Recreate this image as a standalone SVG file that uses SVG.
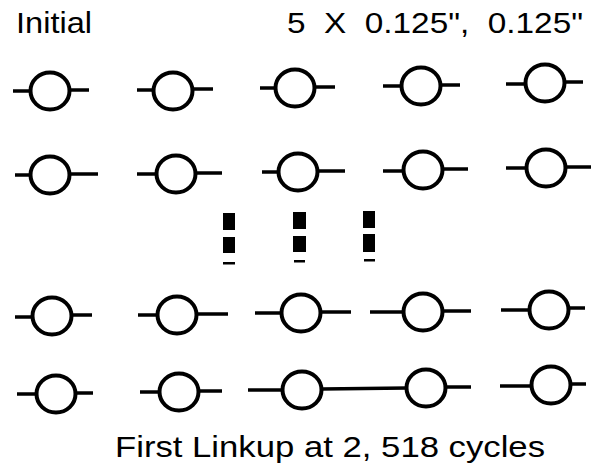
<svg xmlns="http://www.w3.org/2000/svg" width="598" height="463" viewBox="0 0 598 463">
<style>
.c{fill:none;stroke:#000;stroke-width:4}
.s{stroke:#000;stroke-width:3.5;stroke-linecap:butt}
.d{fill:#000}
.t{font-family:"Liberation Sans",Arial,sans-serif;font-size:29px;fill:#000}
</style>
<rect width="598" height="463" fill="#fff"/>
<text class="t" x="16" y="33" textLength="76" lengthAdjust="spacingAndGlyphs">Initial</text>
<text class="t" x="287" y="33" textLength="296" lengthAdjust="spacingAndGlyphs" xml:space="preserve">5  X  0.125",  0.125"</text>

<g id="n1-1"><line class="s" x1="13" y1="91" x2="31" y2="91"/><ellipse class="c" cx="50" cy="91" rx="19.5" ry="18.5"/><line class="s" x1="69" y1="90" x2="89" y2="90"/></g>
<g id="n1-2"><line class="s" x1="137" y1="90" x2="154" y2="90"/><ellipse class="c" cx="173" cy="91" rx="19.5" ry="18.5"/><line class="s" x1="192" y1="89" x2="213" y2="89"/></g>
<g id="n1-3"><line class="s" x1="260" y1="88" x2="276" y2="88"/><ellipse class="c" cx="295" cy="88" rx="19.5" ry="18.5"/><line class="s" x1="314" y1="87" x2="335" y2="87"/></g>
<g id="n1-4"><line class="s" x1="383" y1="86" x2="402" y2="86"/><ellipse class="c" cx="421" cy="86" rx="19.5" ry="18.5"/><line class="s" x1="440" y1="85" x2="460" y2="85"/></g>
<g id="n1-5"><line class="s" x1="506" y1="84" x2="526" y2="84"/><ellipse class="c" cx="545" cy="83" rx="19.5" ry="18.5"/><line class="s" x1="564" y1="82" x2="583" y2="82"/></g>

<g id="n2-1"><line class="s" x1="15" y1="175" x2="31" y2="175"/><ellipse class="c" cx="50" cy="175" rx="19.5" ry="18.5"/><line class="s" x1="69" y1="174" x2="98" y2="174"/></g>
<g id="n2-2"><line class="s" x1="137" y1="174" x2="157" y2="174"/><ellipse class="c" cx="176" cy="174" rx="19.5" ry="18.5"/><line class="s" x1="195" y1="173" x2="222" y2="173"/></g>
<g id="n2-3"><line class="s" x1="262" y1="172" x2="279" y2="172"/><ellipse class="c" cx="298" cy="172" rx="19.5" ry="18.5"/><line class="s" x1="317" y1="171" x2="345" y2="171"/></g>
<g id="n2-4"><line class="s" x1="383" y1="171" x2="404" y2="171"/><ellipse class="c" cx="423" cy="170" rx="19.5" ry="18.5"/><line class="s" x1="442" y1="169" x2="468" y2="169"/></g>
<g id="n2-5"><line class="s" x1="506" y1="168" x2="527" y2="168"/><ellipse class="c" cx="546" cy="168" rx="19.5" ry="18.5"/><line class="s" x1="565" y1="167" x2="591" y2="167"/></g>

<g id="ellipsis">
<rect class="d" x="223" y="213" width="12" height="17"/><rect class="d" x="223" y="237" width="12" height="16"/><rect class="d" x="223" y="262" width="12" height="2.5"/>
<rect class="d" x="293" y="212" width="13" height="17"/><rect class="d" x="293" y="236" width="13" height="16"/><rect class="d" x="294" y="260" width="11" height="2.5"/>
<rect class="d" x="363" y="211" width="12" height="17"/><rect class="d" x="363" y="234" width="12" height="18"/><rect class="d" x="364" y="259" width="11" height="2.5"/>
</g>

<g id="n4-1"><line class="s" x1="15" y1="317" x2="33" y2="317"/><ellipse class="c" cx="52" cy="316" rx="19.5" ry="18.5"/><line class="s" x1="71" y1="315" x2="92" y2="315"/></g>
<g id="n4-2"><line class="s" x1="138" y1="315" x2="158" y2="315"/><ellipse class="c" cx="177" cy="315" rx="19.5" ry="18.5"/><line class="s" x1="196" y1="314" x2="228" y2="314"/></g>
<g id="n4-3"><line class="s" x1="255" y1="313" x2="282" y2="313"/><ellipse class="c" cx="301" cy="313" rx="19.5" ry="18.5"/><line class="s" x1="320" y1="312" x2="351" y2="312"/></g>
<g id="n4-4"><line class="s" x1="370" y1="312" x2="404" y2="312"/><ellipse class="c" cx="423" cy="312" rx="19.5" ry="18.5"/><line class="s" x1="442" y1="311" x2="471" y2="311"/></g>
<g id="n4-5"><line class="s" x1="501" y1="310" x2="530" y2="310"/><ellipse class="c" cx="549" cy="310" rx="19.5" ry="18.5"/><line class="s" x1="568" y1="308" x2="585" y2="308"/></g>

<g id="n5-1"><line class="s" x1="17" y1="394" x2="37" y2="394"/><ellipse class="c" cx="56" cy="394" rx="19.5" ry="18.5"/><line class="s" x1="75" y1="393" x2="93" y2="393"/></g>
<g id="n5-2"><line class="s" x1="140" y1="392" x2="160" y2="392"/><ellipse class="c" cx="179" cy="392" rx="19.5" ry="18.5"/><line class="s" x1="198" y1="391" x2="222" y2="391"/></g>
<g id="n5-3"><line class="s" x1="248" y1="390" x2="283" y2="390"/><ellipse class="c" cx="302" cy="390" rx="19.5" ry="18.5"/></g>
<g id="n5-4"><ellipse class="c" cx="426" cy="388" rx="19.5" ry="18.5"/><line class="s" x1="445" y1="387" x2="471" y2="387"/></g>
<g id="n5-5"><line class="s" x1="500" y1="386" x2="532" y2="386"/><ellipse class="c" cx="551" cy="385" rx="19.5" ry="18.5"/><line class="s" x1="570" y1="384" x2="586" y2="384"/></g>

<g id="connectors"><line class="s" x1="321" y1="389" x2="407" y2="388"/></g>

<text class="t" x="115" y="457" textLength="430" lengthAdjust="spacingAndGlyphs">First Linkup at 2, 518 cycles</text>
</svg>
